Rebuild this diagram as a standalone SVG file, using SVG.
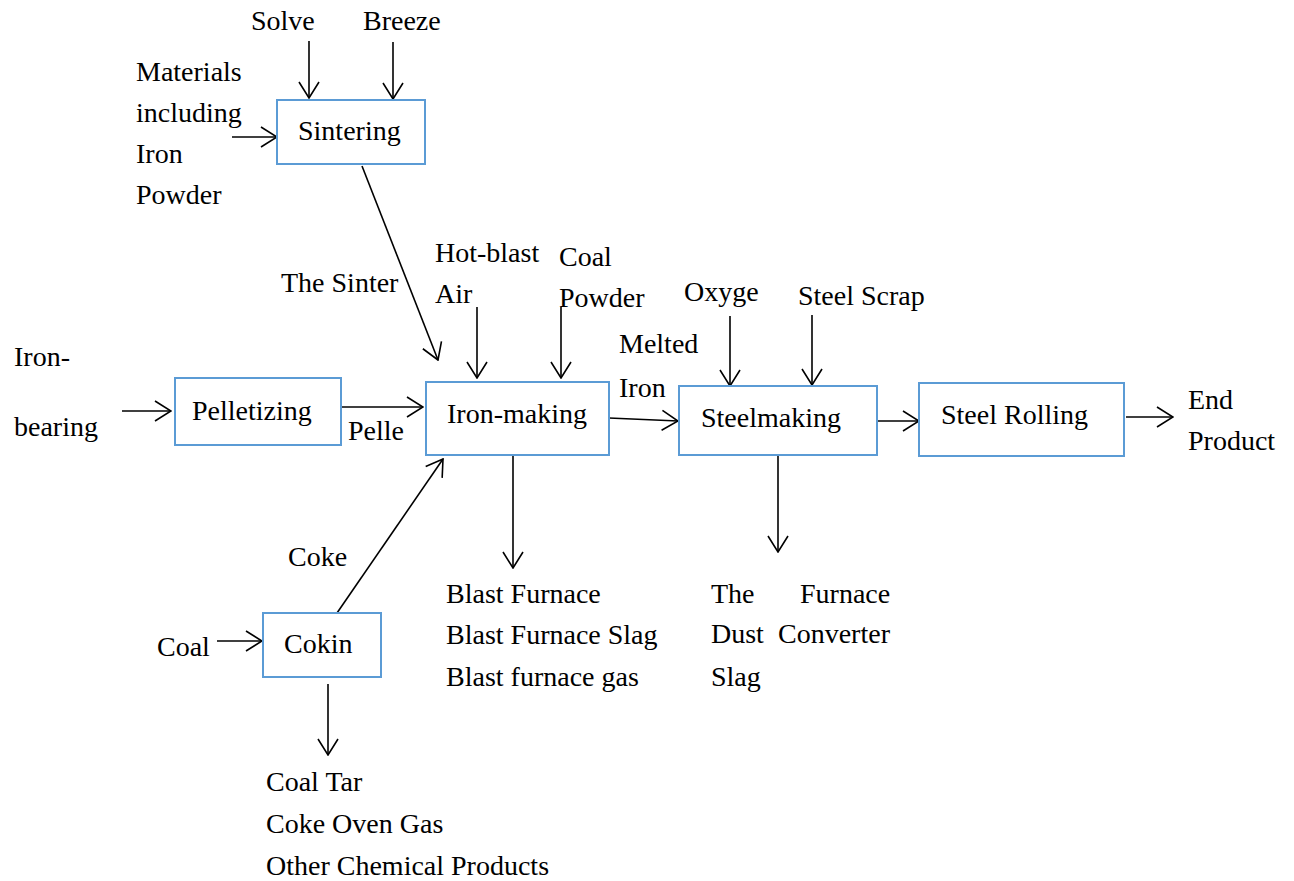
<svg xmlns="http://www.w3.org/2000/svg" width="1294" height="881" viewBox="0 0 1294 881">
<style>
text{font-family:"Liberation Serif","Times New Roman",serif;font-size:28px;fill:#000}
.box{fill:#fff;stroke:#5B9BD5;stroke-width:2}
.ar{stroke:#000;stroke-width:1.6;fill:none;marker-end:url(#ah)}
</style>
<defs>
<marker id="ah" markerUnits="userSpaceOnUse" markerWidth="18" markerHeight="22" refX="16" refY="10" orient="auto" viewBox="-1 -1 18 22">
<path d="M0,0 L16,10 L0,20" fill="none" stroke="#000" stroke-width="1.6"/>
</marker>
</defs>
<rect width="1294" height="881" fill="#fff"/>
<g id="connectors">
<line class="ar" x1="309" y1="41" x2="309" y2="98"/>
<line class="ar" x1="393" y1="42" x2="393" y2="99"/>
<line class="ar" x1="232" y1="137" x2="277" y2="137"/>
<line class="ar" x1="362" y1="166" x2="438" y2="360"/>
<line class="ar" x1="477" y1="307" x2="477" y2="378"/>
<line class="ar" x1="561" y1="307" x2="561" y2="378"/>
<line class="ar" x1="122" y1="411" x2="171" y2="411"/>
<line class="ar" x1="341" y1="407" x2="423" y2="407"/>
<line class="ar" x1="609" y1="418" x2="678" y2="421"/>
<line class="ar" x1="730" y1="316" x2="730" y2="386"/>
<line class="ar" x1="812" y1="315" x2="812" y2="385"/>
<line class="ar" x1="870" y1="421" x2="919" y2="421"/>
<line class="ar" x1="1126" y1="417" x2="1173" y2="417"/>
<line class="ar" x1="513" y1="456" x2="513" y2="568"/>
<line class="ar" x1="778" y1="456" x2="778" y2="552"/>
<line class="ar" x1="337" y1="613" x2="443" y2="459"/>
<line class="ar" x1="217" y1="641" x2="262" y2="641"/>
<line class="ar" x1="328" y1="684" x2="328" y2="755"/>
</g>
<g id="sintering">
<rect class="box" x="277" y="100" width="148" height="64"/>
<text x="298" y="140">Sintering</text>
</g>
<g id="pelletizing">
<rect class="box" x="175" y="378" width="166" height="67"/>
<text x="192" y="420">Pelletizing</text>
</g>
<g id="ironmaking">
<rect class="box" x="426" y="382" width="183" height="73"/>
<text x="447" y="423">Iron-making</text>
</g>
<g id="steelmaking">
<rect class="box" x="679" y="386" width="198" height="69"/>
<text x="701" y="427">Steelmaking</text>
</g>
<g id="steelrolling">
<rect class="box" x="919" y="383" width="205" height="73"/>
<text x="941" y="424">Steel Rolling</text>
</g>
<g id="cokin">
<rect class="box" x="263" y="613" width="118" height="64"/>
<text x="284" y="653">Cokin</text>
</g>
<g id="labels">
<text x="251" y="30">Solve</text>
<text x="363" y="30">Breeze</text>
<text x="136" y="81">Materials</text>
<text x="136" y="122">including</text>
<text x="136" y="163">Iron</text>
<text x="136" y="204">Powder</text>
<text x="281" y="292">The Sinter</text>
<text x="435" y="262">Hot-blast</text>
<text x="435" y="303">Air</text>
<text x="559" y="266">Coal</text>
<text x="559" y="307">Powder</text>
<text x="619" y="353">Melted</text>
<text x="619" y="397">Iron</text>
<text x="684" y="301">Oxyge</text>
<text x="798" y="305">Steel Scrap</text>
<text x="1188" y="409">End</text>
<text x="1188" y="450">Product</text>
<text x="14" y="366">Iron-</text>
<text x="14" y="436">bearing</text>
<text x="348" y="440">Pelle</text>
<text x="446" y="603">Blast Furnace</text>
<text x="446" y="644">Blast Furnace Slag</text>
<text x="446" y="686">Blast furnace gas</text>
<text x="711" y="603">The</text>
<text x="800" y="603">Furnace</text>
<text x="711" y="643">Dust</text>
<text x="778" y="643">Converter</text>
<text x="711" y="686">Slag</text>
<text x="288" y="566">Coke</text>
<text x="157" y="656">Coal</text>
<text x="266" y="791">Coal Tar</text>
<text x="266" y="833">Coke Oven Gas</text>
<text x="266" y="875">Other Chemical Products</text>
</g>
</svg>
